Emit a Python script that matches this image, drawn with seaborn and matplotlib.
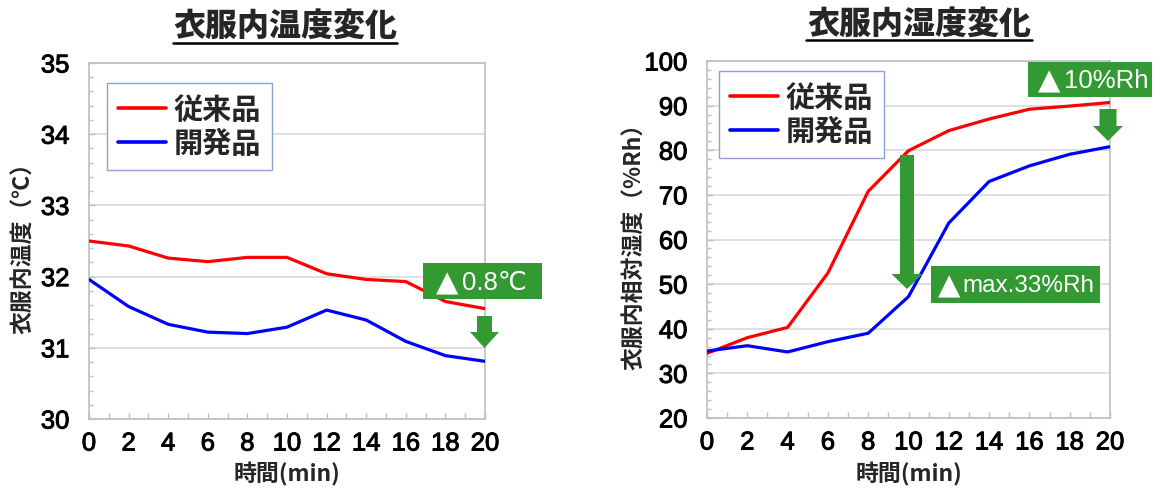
import numpy as np
import pandas as pd
import matplotlib
matplotlib.use("Agg")
import matplotlib.pyplot as plt
import matplotlib.patheffects as pe
from matplotlib.patches import Rectangle, Polygon
from matplotlib.lines import Line2D
from matplotlib.ticker import MultipleLocator
import seaborn as sns

# ---------------- data ----------------
time_min = [0, 2, 4, 6, 8, 10, 12, 14, 16, 18, 20]
products = ["従来品", "開発品"]
temp_conventional = [32.50, 32.43, 32.26, 32.21, 32.27, 32.27, 32.04, 31.96, 31.93, 31.65, 31.55]
temp_developed = [31.96, 31.58, 31.33, 31.22, 31.20, 31.29, 31.53, 31.39, 31.09, 30.89, 30.81]
hum_conventional = [34.5, 38.0, 40.3, 52.5, 70.8, 79.9, 84.4, 87.0, 89.2, 89.9, 90.7]
hum_developed = [35.0, 36.2, 34.8, 37.1, 39.0, 47.2, 63.7, 73.0, 76.5, 79.1, 80.8]
temp_title = "衣服内温度変化"
hum_title = "衣服内湿度変化"
temp_ylabel = "衣服内温度（℃）"
hum_ylabel = "衣服内相対湿度（%Rh）"
xlabel = "時間(min)"
triangle = "▲"
temp_note = "0.8℃"
hum_note_end = "10%Rh"
hum_note_max = "max.33%Rh"

# ---------------- style ----------------
sns.set_style("white")
plt.rcParams["font.family"] = ["Liberation Sans", "Noto Sans CJK JP", "DejaVu Sans"]
CJK = ["Noto Sans CJK JP", "DejaVu Sans"]
BOXFONT = ["Liberation Sans", "DejaVu Sans", "Noto Sans CJK JP"]
GREEN = "#339933"
palette = {"従来品": "#ff0000", "開発品": "#0000ff"}

W, H = 1162, 489
fig = plt.figure(figsize=(W / 100, H / 100), dpi=100)

def fx(x):
    return x / W

def fy(y):
    return 1 - y / H

def axes_rect(x0, y0, x1, y1):
    return [fx(x0), fy(y1), (x1 - x0) / W, (y1 - y0) / H]

ax1 = fig.add_axes(axes_rect(89, 64, 485, 420))
ax2 = fig.add_axes(axes_rect(707, 62, 1110, 419))

df_t = pd.DataFrame({
    "time": time_min * 2,
    "value": temp_conventional + temp_developed,
    "product": [products[0]] * len(time_min) + [products[1]] * len(time_min),
})
df_h = pd.DataFrame({
    "time": time_min * 2,
    "value": hum_conventional + hum_developed,
    "product": [products[0]] * len(time_min) + [products[1]] * len(time_min),
})

for ax, df in ((ax1, df_t), (ax2, df_h)):
    sns.lineplot(data=df, x="time", y="value", hue="product", hue_order=products,
                 palette=palette, linewidth=2.3, ax=ax, zorder=3)

thick = [pe.withStroke(linewidth=0.7, foreground="black")]

def style_axes(ax, ylim, ymajor, yminor, ylabel, ylab_x, leg_xy):
    ax.set_xlim(0, 20)
    ax.set_ylim(*ylim)
    ax.xaxis.set_major_locator(MultipleLocator(2))
    ax.xaxis.set_minor_locator(MultipleLocator(1))
    ax.yaxis.set_major_locator(MultipleLocator(ymajor))
    ax.yaxis.set_minor_locator(MultipleLocator(yminor))
    ax.grid(axis="y", which="major", color="#d9d9d9", linewidth=1.2, zorder=0)
    ax.set_axisbelow(True)
    for s in ax.spines.values():
        s.set_color("#bfbfbf")
        s.set_linewidth(1.2)
    ax.tick_params(axis="x", which="both", direction="in", length=4.5, width=1,
                   color="#bfbfbf", labelsize=18.5, pad=9, labelcolor="black")
    ax.tick_params(axis="y", which="major", direction="in", length=4, width=1,
                   color="#bfbfbf", labelsize=18.5, pad=14, labelcolor="black")
    ax.tick_params(axis="y", which="minor", direction="in", length=3, width=1,
                   color="#bfbfbf")
    ax.tick_params(axis="both", which="both", bottom=True, left=True, top=False, right=False)
    for lab in ax.get_xticklabels() + ax.get_yticklabels():
        lab.set_path_effects(thick)
    ax.set_xlabel(xlabel, fontsize=16.5, fontweight="bold", family=CJK, va="center")
    ax.set_ylabel(ylabel, fontsize=16.5, fontweight="bold", family=CJK, va="center")
    ax.yaxis.set_label_coords(ylab_x, 0.5)
    handles, labels = ax.get_legend_handles_labels()
    leg = ax.legend(handles, labels, loc="upper left", bbox_to_anchor=leg_xy,
                    bbox_transform=ax.transAxes, borderaxespad=0,
                    frameon=True, fancybox=False, framealpha=1,
                    edgecolor="#8aa4cc", handlelength=1.65, handletextpad=0.25,
                    borderpad=0.38, labelspacing=0.15,
                    prop={"family": CJK, "weight": "bold", "size": 21})
    leg.get_frame().set_linewidth(1.0)
    for ln in leg.get_lines():
        ln.set_linewidth(2.6)
    leg.set_zorder(5)

style_axes(ax1, (30, 35), 1, 0.2, temp_ylabel, (24 - 89) / 396, ((107 - 89) / 396, (420 - 84) / 356))
style_axes(ax2, (20, 100), 10, 2, hum_ylabel, (635 - 707) / 403, ((719 - 707) / 403, (419 - 72) / 357))
ax1.xaxis.set_label_coords(0.5, (420 - 474) / 356)
ax2.xaxis.set_label_coords(0.5, (419 - 474) / 357)

# ---------------- titles with underline ----------------
fig.text(fx(285), fy(27), temp_title, ha="center", va="center", fontsize=23,
         fontweight="heavy", family=CJK)
fig.text(fx(919), fy(25), hum_title, ha="center", va="center", fontsize=23,
         fontweight="heavy", family=CJK)
fig.add_artist(Line2D([fx(173), fx(397)], [fy(43.5), fy(43.5)], color="black", linewidth=1.8))
fig.add_artist(Line2D([fx(806), fx(1032)], [fy(41), fy(41)], color="black", linewidth=1.8))

# ---------------- green notes ----------------
def note_box(x0, y0, x1, y1, tri_x, text_x, text, size):
    fig.add_artist(Rectangle((fx(x0), fy(y1)), (x1 - x0) / W, (y1 - y0) / H,
                             transform=fig.transFigure, facecolor=GREEN,
                             edgecolor="none", zorder=10))
    yc = fy((y0 + y1) / 2 + 1)
    fig.text(fx(tri_x), yc, triangle, ha="left", va="center", color="white",
             fontsize=21, family=["DejaVu Sans"], zorder=11)
    fig.text(fx(text_x), yc, text, ha="left", va="center",
             color="white", fontsize=size, family=BOXFONT, zorder=11)

def down_arrow(cx, top, base, tip, sw, hw):
    pts = [(cx - sw / 2, top), (cx + sw / 2, top), (cx + sw / 2, base),
           (cx + hw / 2, base), (cx, tip), (cx - hw / 2, base), (cx - sw / 2, base)]
    fig.add_artist(Polygon([(fx(x), fy(y)) for x, y in pts], closed=True,
                           transform=fig.transFigure, facecolor=GREEN,
                           edgecolor="none", zorder=10))

note_box(423, 264, 542, 300, 436, 462, temp_note, 18.5)
down_arrow(484.5, 317, 333, 349, 15, 29)

note_box(1028, 63, 1152, 98, 1038, 1064, hum_note_end, 18.5)
down_arrow(1108, 110, 127, 142, 17, 30)

note_box(931, 267, 1100, 304, 938, 962, hum_note_max, 17.5)
down_arrow(907, 156, 275, 290, 14, 31)

fig.savefig("out.png", dpi=100)
